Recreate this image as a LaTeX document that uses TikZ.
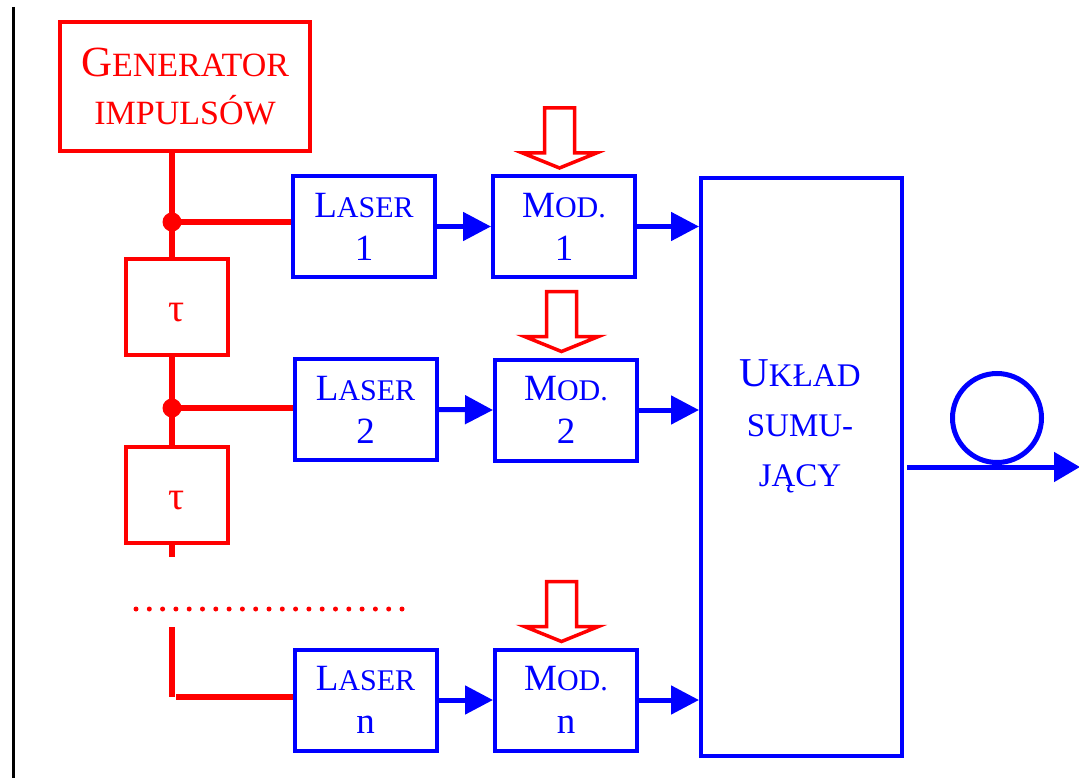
\documentclass[tikz,border=0pt]{standalone}
\usepackage{fontspec}
\setmainfont{Liberation Serif}
\usetikzlibrary{arrows.meta}
\newcommand\smc[2]{{\fontsize{#1}{#1}\selectfont #2}}
\begin{document}
\begin{tikzpicture}[x=1pt,y=-1pt,
  rbox/.style={draw=red, line width=4pt, rectangle, inner sep=0pt, text=red, align=center},
  bbox/.style={draw=blue, line width=4pt, rectangle, inner sep=0pt, text=blue, align=center,
    minimum width=142pt, minimum height=101pt, font=\fontsize{37}{43}\selectfont},
  rline/.style={draw=red, line width=6pt},
  barrow/.style={draw=blue, line width=5pt, -{Triangle[length=28pt,width=28pt]}},
  hollow/.style={draw=red, line width=3.5pt, fill=white, line join=miter},
  jdot/.style={circle, fill=red, inner sep=0pt, minimum size=19pt},
]
\useasboundingbox (0,0) rectangle (1079,778);

% left black edge
\coordinate (edgetop) at (13,7);
\coordinate (edgebot) at (13,778);
\draw[line width=3pt] (edgetop) -- (edgebot);

% generator and delays
\node[rbox, minimum width=250pt, minimum height=129pt, font=\fontsize{43}{48}\selectfont]
  (gen) at (185,86.5) {G\smc{34}{ENERATOR}\\\smc{34}{IMPULSÓW}};
\node[rbox, minimum width=102pt, minimum height=96pt, font=\fontsize{40}{40}\selectfont]
  (tau1) at (176.5,307) {\raisebox{-14pt}[0pt][0pt]{τ}};
\node[rbox, minimum width=102pt, minimum height=96pt, font=\fontsize{40}{40}\selectfont]
  (tau2) at (177,495) {\raisebox{-14pt}[0pt][0pt]{τ}};

% lasers and modulators
\node[bbox] (laser1) at (364,226.5) {L\smc{30}{ASER}\\1};
\node[bbox] (laser2) at (365.5,409.5) {L\smc{30}{ASER}\\2};
\node[bbox] (lasern) at (365.5,700) {L\smc{30}{ASER}\\n};
\node[bbox] (mod1) at (564,226.5) {M\smc{30}{OD.}\\1};
\node[bbox] (mod2) at (566,410) {M\smc{30}{OD.}\\2};
\node[bbox] (modn) at (566,700) {M\smc{30}{OD.}\\n};

% summing unit
\node[draw=blue, line width=4pt, rectangle, inner sep=0pt, minimum width=201pt, minimum height=578pt]
  (uklad) at (801.5,467) {};
\node[text=blue, align=center, inner sep=0pt, font=\fontsize{41}{50}\selectfont]
  (ukladtxt) at (800,426) {U\smc{33}{KŁAD}\\\smc{33}{SUMU-}\\\smc{33}{JĄCY}};

% junctions
\node[jdot] (j1) at (172,222) {};
\node[jdot] (j2) at (172,408) {};

% red bus
\draw[rline] (gen.south -| j1) -- (tau1.north -| j1);
\draw[rline] (j1.center) -- (j1 -| laser1.west);
\draw[rline] (tau1.south -| j2) -- (tau2.north -| j2);
\draw[rline] (j2.center) -- (j2 -| laser2.west);
\coordinate (busend) at (172,557);
\draw[rline] (tau2.south -| busend) -- (busend);
\coordinate (d1) at (136,609);
\coordinate (d2) at (404,609);
\draw[red, line width=5pt, line cap=round, dash pattern=on 0pt off 13.3pt] (d1) -- (d2);
\coordinate (b1) at (172,627);
\coordinate (b2) at (172,697);
\coordinate (b3) at (176,697);
\draw[red, line width=6pt] (b1) -- (b2);
\draw[red, line width=6pt] (b3) -- (b3 -| lasern.west);

% blue signal arrows
\draw[barrow] (laser1.east) -- (mod1.west);
\draw[barrow] (laser2.east) -- (mod2.west);
\draw[barrow] (lasern.east) -- (modn.west);
\draw[barrow] (mod1.east) -- (mod1.east -| uklad.west);
\draw[barrow] (mod2.east) -- (mod2.east -| uklad.west);
\draw[barrow] (modn.east) -- (modn.east -| uklad.west);

% modulating inputs (hollow arrows)
\foreach \m in {mod1,mod2,modn}{
  \begin{scope}[shift={(\m.north)}]
    \draw[hollow] (-4.5,-6) -- (32.5,-21) -- (10.5,-21) -- (10.5,-66) -- (-19.5,-66)
      -- (-19.5,-21) -- (-41.5,-21) -- cycle;
  \end{scope}
}

% output fibre
\node[circle, draw=blue, line width=5pt, inner sep=0pt, minimum size=89pt] (loop) at (997,418) {};
\coordinate (outstart) at (907,467);
\coordinate (outend) at (1080,467);
\draw[draw=blue, line width=5pt, -{Triangle[length=26pt,width=29pt]}] (outstart) -- (outend);
\end{tikzpicture}
\end{document}
